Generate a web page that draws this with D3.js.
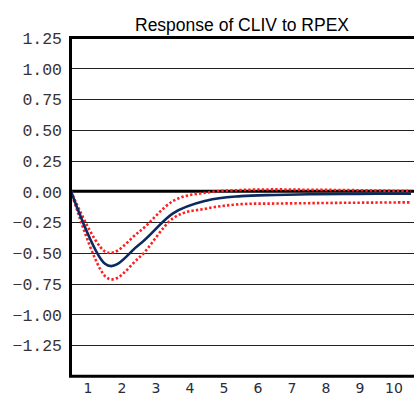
<!DOCTYPE html>
<html>
<head>
<meta charset="utf-8">
<script src="https://cdn.jsdelivr.net/npm/d3@7"></script>
<style>
  html, body { margin: 0; padding: 0; background: #fff; }
  svg { display: block; }
</style>
</head>
<body>
<svg id="chart" width="414" height="397"></svg>
<script>
// Impulse response of CLIV to a shock in RPEX, with +/- 2 S.E. bands.
const steps = [0, 1, 2, 3, 4, 5, 6, 7, 8, 9, 10];
const response = [0, -0.59, -0.435, -0.18, -0.075, -0.04, -0.03, -0.025, -0.022, -0.02, -0.02];
const upperBand = [0, -0.49, -0.33, -0.08, -0.01, 0.01, 0.015, 0.012, 0.01, 0.006, 0.003];
const lowerBand = [0, -0.69, -0.54, -0.22, -0.14, -0.105, -0.10, -0.097, -0.094, -0.092, -0.09];
const xTickLabels = ["1", "2", "3", "4", "5", "6", "7", "8", "9", "10"];
const yTicks = [1.25, 1.00, 0.75, 0.50, 0.25, 0.00, -0.25, -0.50, -0.75, -1.00, -1.25];
const title = "Response of CLIV to RPEX";

const svg = d3.select("#chart");
const plotLeft = 71, plotRight = 411, plotTop = 37.5, plotBottom = 375.75;

const x = d3.scaleLinear().domain([0, 10]).range([plotLeft, plotRight]);
const y = d3.scaleLinear().domain([-1.5, 1.25]).range([plotBottom, plotTop]);

// grid lines
svg.append("g")
  .selectAll("line")
  .data(yTicks.filter(v => v !== 0 && v !== 1.25))
  .join("line")
  .attr("x1", plotLeft).attr("x2", 420)
  .attr("y1", d => Math.round(y(d)) + 0.5).attr("y2", d => Math.round(y(d)) + 0.5)
  .attr("stroke", "#222").attr("stroke-width", 1);

// zero line
svg.append("line")
  .attr("x1", plotLeft).attr("x2", 420)
  .attr("y1", y(0)).attr("y2", y(0))
  .attr("stroke", "#000").attr("stroke-width", 3);

// series, smoothed through the period values
const line = (vals) => d3.line()
  .x((d, i) => x(steps[i]))
  .y(d => y(d))
  .curve(d3.curveCatmullRom.alpha(0))(vals);

svg.append("path").attr("d", line(upperBand))
  .attr("fill", "none").attr("stroke", "#ff1f1f").attr("stroke-width", 2.6)
  .attr("stroke-dasharray", "2.4 2.1");
svg.append("path").attr("d", line(lowerBand))
  .attr("fill", "none").attr("stroke", "#ff1f1f").attr("stroke-width", 2.6)
  .attr("stroke-dasharray", "2.4 2.1");
svg.append("path").attr("d", line(response))
  .attr("fill", "none").attr("stroke", "#0c2a5f").attr("stroke-width", 2.6);

// plot frame
svg.append("rect")
  .attr("x", plotLeft - 0.5).attr("y", plotTop)
  .attr("width", 440 - plotLeft).attr("height", plotBottom - plotTop + 0.5)
  .attr("fill", "none").attr("stroke", "#000").attr("stroke-width", 3);

// y axis labels
const yAxis = d3.axisLeft(y).tickValues(yTicks).tickSize(0).tickPadding(0)
  .tickFormat(d => d3.format(".2f")(d).replace("-", "\u2212"));
const gy = svg.append("g").attr("transform", `translate(62,0)`).call(yAxis);
gy.select(".domain").remove();
gy.selectAll("text")
  .attr("font-family", "'Liberation Mono', 'Courier New', monospace")
  .attr("font-size", 16.5).attr("fill", "#3a3232").attr("dy", "0.35em");

// x axis labels, centred in each period band
svg.append("g").selectAll("text")
  .data(xTickLabels)
  .join("text")
  .attr("x", d => x(+d - 0.5))
  .attr("y", 393)
  .attr("text-anchor", "middle")
  .attr("font-family", "'DejaVu Sans', Verdana, sans-serif")
  .attr("font-size", 14).attr("fill", "#2a2a3a")
  .text(d => d);

// title
svg.append("text")
  .attr("x", 242).attr("y", 31)
  .attr("text-anchor", "middle")
  .attr("font-family", "'Liberation Sans', Arial, sans-serif")
  .attr("font-size", 17.5).attr("fill", "#000")
  .text(title);
</script>
</body>
</html>
